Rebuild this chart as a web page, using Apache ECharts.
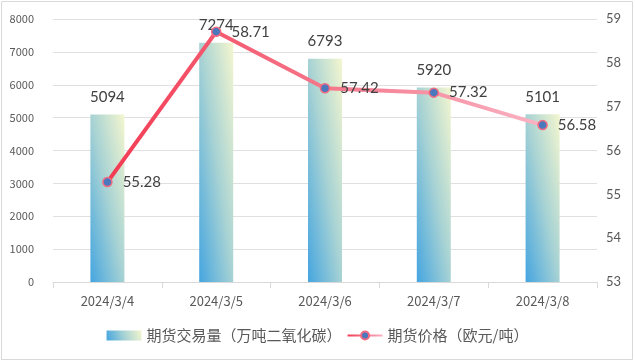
<!DOCTYPE html>
<html><head><meta charset="utf-8">
<script src="https://cdn.jsdelivr.net/npm/echarts@6/dist/echarts.min.js"></script>
<style>html,body{margin:0;padding:0;background:#fff}#c{width:635px;height:362px}</style>
</head><body><div id="c"></div>
<script>
const categories = ['2024/3/4','2024/3/5','2024/3/6','2024/3/7','2024/3/8'];
const volume = [5094, 7274, 6793, 5920, 5101];
const price = [55.28, 58.71, 57.42, 57.32, 56.58];
const volName = '期货交易量（万吨二氧化碳）';
const priceName = '期货价格（欧元/吨）';

const chart = echarts.init(document.getElementById('c'), null, {renderer:'canvas'});
const G = echarts.graphic.LinearGradient;
const stops = [{offset:0,color:'#45a5e0'},{offset:0.5,color:'#a6d2d4'},{offset:1,color:'#f4f6cf'}];
const BAR_W = 34, PLOT_H = 263, VMAX = 8000;
// 45-degree-in-shape gradient (bottom-left blue -> top-right yellow)
function barGrad(v){
  const w = BAR_W, h = Math.max(1, v / VMAX * PLOT_H);
  const k = 2 / (1/(w*w) + 1/(h*h));
  return new G(0, 1, k/(w*w), 1 - k/(h*h), stops);
}
const lineGrad = new G(0,0,1,0,[{offset:0,color:'#f23a52'},{offset:1,color:'#f9b4c4'}]);
const font = 'Lato, "Liberation Sans", sans-serif';
const cjk = '"Noto Sans CJK SC", sans-serif';
chart.setOption({
  animation:false,
  backgroundColor:'#fff',
  graphic:[{type:'rect',shape:{x:1.5,y:1.5,width:631,height:358},style:{fill:'none',stroke:'#d9d9d9',lineWidth:1},silent:true}],
  grid:{left:53,right:38,top:19,bottom:80,containLabel:false},
  legend:{bottom:14,left:'center',itemGap:5,itemWidth:35,itemHeight:10,
    textStyle:{fontSize:15,color:'#595959',fontFamily:cjk},
    data:[{name:volName,icon:'rect'},{name:priceName}]},
  xAxis:{type:'category',data:categories,
    axisLine:{lineStyle:{color:'#d9d9d9'}},
    axisTick:{show:true,length:6,lineStyle:{color:'#d9d9d9'}},
    axisLabel:{color:'#595959',fontSize:13,margin:13,fontFamily:cjk}},
  yAxis:[
    {type:'value',min:0,max:8000,interval:1000,
     axisLine:{show:false},axisTick:{show:false},
     axisLabel:{color:'#595959',fontSize:11,margin:19,fontFamily:cjk,formatter:v=>String(v)},
     splitLine:{lineStyle:{color:'#e0e0e0'}}},
    {type:'value',min:53,max:59,interval:1,
     axisLine:{show:false},axisTick:{show:false},
     axisLabel:{color:'#595959',fontSize:13,margin:9,fontFamily:font},
     splitLine:{show:false}}
  ],
  series:[
    {name:volName,type:'bar',barWidth:BAR_W,
     data:volume.map(v=>({value:v,itemStyle:{color:barGrad(v)}})),
     itemStyle:{color:new G(0,1,1,0,stops)},
     label:{show:true,position:'top',distance:10,color:'#404040',fontSize:15,fontFamily:font}},
    {name:priceName,type:'line',yAxisIndex:1,data:price,
     symbol:'circle',symbolSize:9,
     lineStyle:{width:4,color:lineGrad},
     itemStyle:{color:'#4a78bd',borderColor:'#f26a82',borderWidth:1.5},
     label:{show:true,position:'right',distance:10,color:'#404040',fontSize:15,fontFamily:font}}
  ]
});
</script></body></html>
